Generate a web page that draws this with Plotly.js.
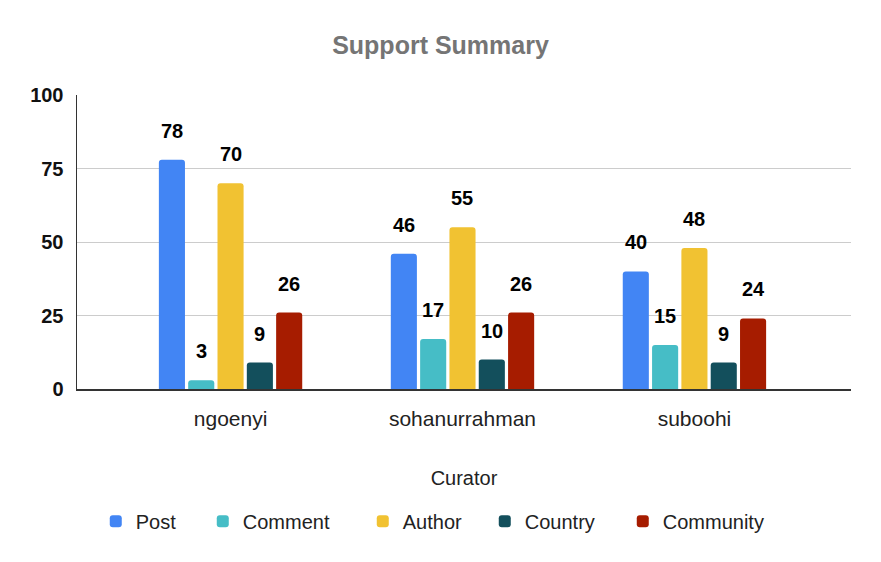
<!DOCTYPE html>
<html>
<head>
<meta charset="utf-8">
<script src="https://cdn.plot.ly/plotly-3.0.1.min.js"></script>
<style>html,body{margin:0;padding:0;background:#fff;}#chart{width:881px;height:562px;}</style>
</head>
<body>
<div id="chart"></div>
<script>
const curators = ["ngoenyi", "sohanurrahman", "suboohi"];
const postVals = [78, 46, 40];
const commentVals = [3, 17, 15];
const authorVals = [70, 55, 48];
const countryVals = [9, 10, 9];
const communityVals = [26, 26, 24];
const seriesNames = ["Post", "Comment", "Author", "Country", "Community"];
const seriesColors = ["#4285F4", "#46BDC6", "#F1C232", "#134F5C", "#A61C00"];
const yTicks = [0, 25, 50, 75, 100];

const FONT = "Liberation Sans, Arial, sans-serif";
const legendWidths = [62, 115, 77, 93, 101];

const allVals = [postVals, commentVals, authorVals, countryVals, communityVals];
const traces = allVals.map((vals, i) => ({
  type: "bar",
  name: seriesNames[i],
  x: curators,
  y: vals,
  marker: { color: seriesColors[i], cornerradius: 3 },
  legendwidth: legendWidths[i],
  hoverinfo: "skip"
}));

const layout = {
  width: 881, height: 562,
  margin: { l: 77, r: 30, t: 95, b: 173 },
  paper_bgcolor: "#fff", plot_bgcolor: "#fff",
  font: { family: FONT, color: "#222" },
  title: { text: "<b>Support Summary</b>", x: 0.5, xanchor: "center", y: 0.92, yanchor: "middle",
           font: { family: FONT, size: 25, color: "#757575" } },
  barmode: "group",
  bargap: 0.368,
  bargroupgap: 0.11,
  xaxis: {
    type: "category",
    range: [-0.662, 2.675],
    showgrid: false,
    showline: true, linecolor: "#333", linewidth: 1.5,
    ticks: "", ticklabelstandoff: 10, tickangle: 0,
    tickfont: { family: FONT, size: 21, color: "#222" },
    title: { text: "Curator", standoff: 42, font: { family: FONT, size: 20, color: "#222" } }
  },
  yaxis: {
    range: [0, 100],
    tickvals: yTicks,
    showgrid: true, gridcolor: "#cccccc", gridwidth: 1,
    showline: true, linecolor: "#333", linewidth: 1.5,
    zeroline: false,
    ticks: "", ticklabelstandoff: 8,
    tickfont: { family: FONT, size: 20, color: "#111", weight: "bold" }
  },
  showlegend: true,
  legend: {
    orientation: "h", x: 0.459, xanchor: "center",
    y: -0.45, yanchor: "middle",
    font: { family: FONT, size: 20, color: "#222" }, traceorder: "normal"
  }
};

const gd = document.getElementById("chart");
Plotly.newPlot(gd, traces, layout, { displayModeBar: false, staticPlot: true }).then(() => {
  const annotations = [];
  gd.calcdata.forEach((cd, i) => {
    cd.forEach((pt, j) => {
      const xc = (typeof pt.x === "number") ? pt.x : j;
      annotations.push({
        xref: "x", yref: "y", x: xc, y: allVals[i][j],
        text: "<b>" + allVals[i][j] + "</b>",
        showarrow: false, yanchor: "middle", yshift: 29,
        font: { family: FONT, size: 20, color: "#000" }
      });
    });
  });
  return Plotly.relayout(gd, { annotations: annotations });
});
</script>
</body>
</html>
